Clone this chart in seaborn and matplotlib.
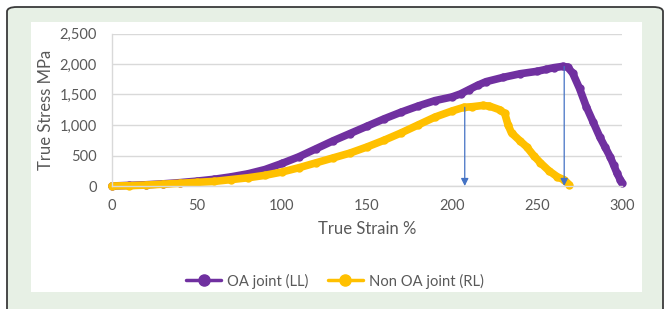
import numpy as np
import pandas as pd
import matplotlib.pyplot as plt
import seaborn as sns
from matplotlib.patches import FancyBboxPatch, Rectangle
from matplotlib.lines import Line2D

# Datos
oa_strain = [0, 10, 20, 30, 40, 50, 60, 70, 80, 90, 100, 110, 120, 130, 140, 150,
             160, 170, 180, 190, 200, 205, 210, 215, 220, 230, 240, 250, 255, 260,
             265, 268, 271, 275, 279, 283, 287, 290, 293, 295, 297, 299, 300]
oa_stress = [0, 10, 20, 35, 55, 80, 110, 150, 200, 270, 370, 480, 610, 740, 860, 980,
             1100, 1210, 1310, 1400, 1460, 1510, 1580, 1650, 1710, 1780, 1840, 1880, 1910, 1940,
             1960, 1950, 1850, 1600, 1300, 1050, 800, 640, 480, 350, 215, 100, 50]

non_strain = [0, 10, 20, 30, 40, 50, 60, 70, 80, 90, 100, 110, 120, 130, 140, 150,
              160, 170, 180, 190, 200, 207, 212, 218, 222, 228, 231, 233, 235, 240,
              244, 248, 252, 257, 262, 266, 269]
non_stress = [0, 5, 15, 30, 45, 60, 75, 105, 135, 175, 230, 300, 380, 460, 540, 640,
              750, 870, 1000, 1130, 1230, 1290, 1300, 1320, 1310, 1250, 1190, 1000, 870, 740,
              640, 500, 380, 250, 150, 100, 20]

series = ['OA joint (LL)', 'Non OA joint (RL)']
colors = ['#7030a0', '#ffc000']

# flechas (deformacion, esfuerzo inicial)
arrow_x = [207.5, 266]
arrow_top = [1290, 1960]

df = pd.concat([
    pd.DataFrame({'strain': oa_strain, 'stress': oa_stress, 'serie': series[0]}),
    pd.DataFrame({'strain': non_strain, 'stress': non_stress, 'serie': series[1]}),
])

sns.set_style('white')
plt.rcParams['font.family'] = ['Lato', 'DejaVu Sans']

W, H = 664, 309
fig = plt.figure(figsize=(W / 100, H / 100), dpi=100)
fig.patch.set_facecolor('white')

# marco exterior verde y area blanca
frame = FancyBboxPatch((7 / W, -20 / H), 656 / W, 322 / H,
                       boxstyle='round,pad=0,rounding_size=0.015',
                       transform=fig.transFigure, facecolor='#e7f0e5',
                       edgecolor='#3a3a3a', lw=1.3, zorder=-2)
fig.patches.append(frame)
fig.patches.append(Rectangle((31 / W, (H - 292) / H), 611 / W, 270 / H,
                             transform=fig.transFigure, facecolor='white',
                             edgecolor='none', zorder=-1))

ax = fig.add_axes([112 / W, (H - 186) / H, 510 / W, 152.5 / H])
ax.set_facecolor('none')

sns.lineplot(data=df, x='strain', y='stress', hue='serie', palette=colors,
             sort=False, estimator=None, lw=5.5, marker='o', markersize=6,
             markeredgewidth=0, legend=False, ax=ax, solid_capstyle='round',
             solid_joinstyle='round', clip_on=False)

for xv, yv in zip(arrow_x, arrow_top):
    ax.annotate('', xy=(xv, 0), xytext=(xv, yv),
                arrowprops=dict(arrowstyle='-|>', color='#4472c4', lw=0.9,
                                mutation_scale=11, shrinkA=0, shrinkB=0))

ax.set_xlim(0, 300)
ax.set_ylim(0, 2500)
ax.set_xticks(range(0, 301, 50))
ax.set_yticks(range(0, 2501, 500))
ax.set_yticklabels([f'{v:,}' for v in range(0, 2501, 500)])
ax.grid(axis='y', color='#d9d9d9', lw=1)
ax.set_axisbelow(True)
for s in ['top', 'right']:
    ax.spines[s].set_visible(False)
for s in ['left', 'bottom']:
    ax.spines[s].set_color('#d9d9d9')
    ax.spines[s].set_linewidth(1)
ax.tick_params(axis='y', length=0, pad=11, labelsize=10.5, labelcolor='#595959')
ax.tick_params(axis='x', length=0, pad=9, labelsize=10.5, labelcolor='#595959')

ax.set_xlabel('True Strain %', fontsize=12, color='#595959', labelpad=6)
ax.set_ylabel('True Stress MPa', fontsize=12, color='#595959', labelpad=4)

handles = [Line2D([], [], color=c, lw=2.5, marker='o', markersize=8) for c in colors]
fig.legend(handles, series, loc='center', bbox_to_anchor=(335 / W, (H - 281) / H),
           ncol=2, frameon=False, fontsize=10.6, handlelength=2.4, handletextpad=0.4,
           columnspacing=1.3, labelcolor='#595959')

fig.savefig('out.png', dpi=100)
